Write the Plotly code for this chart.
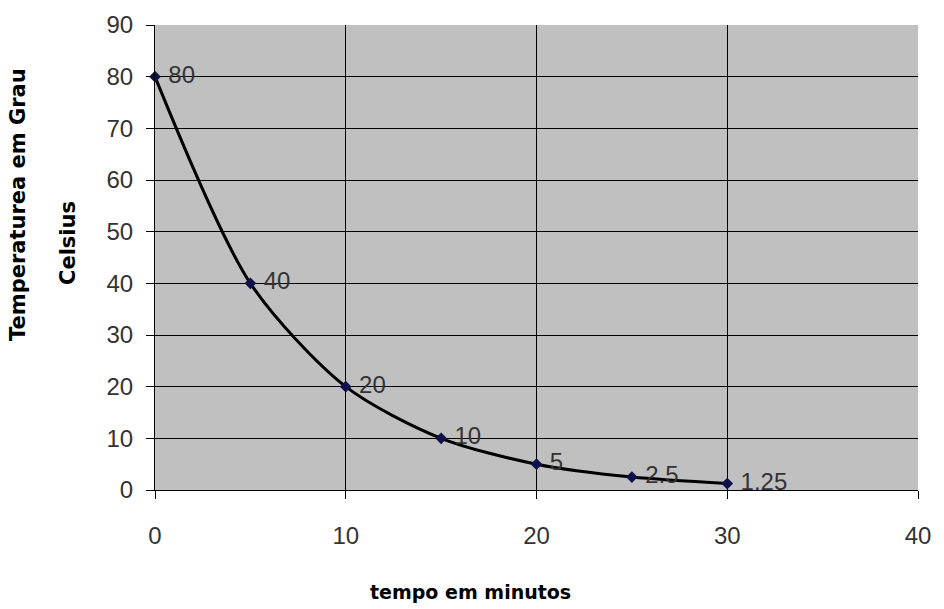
import plotly.graph_objects as go

tempo = [0, 5, 10, 15, 20, 25, 30]
temperatura = [80, 40, 20, 10, 5, 2.5, 1.25]
rotulos = ["80", "40", "20", "10", "5", "2.5", "1.25"]
x_ticks = [0, 10, 20, 30, 40]
y_ticks = [0, 10, 20, 30, 40, 50, 60, 70, 80, 90]

tick_font = dict(family="Liberation Sans Narrow, Arial Narrow, Liberation Sans, Arial, sans-serif",
                 size=24, color="#333333")
title_family = "DejaVu Sans, Arial, sans-serif"

fig = go.Figure()
fig.add_trace(go.Scatter(
    x=tempo, y=temperatura,
    mode="lines+markers+text",
    line=dict(color="black", width=3, shape="spline", smoothing=0.8),
    marker=dict(symbol="diamond", size=9, color="#10104a"),
    text=["\u00a0" + r for r in rotulos], textposition="middle right",
    textfont=tick_font,
    cliponaxis=False,
    showlegend=False,
))

fig.update_layout(
    width=944, height=609,
    margin=dict(l=155, r=26, t=25, b=119),
    paper_bgcolor="white",
    plot_bgcolor="#C0C0C0",
    xaxis=dict(
        range=[0, 40], tickvals=x_ticks, showgrid=True, gridcolor="black", gridwidth=1,
        zeroline=False, showline=True, linecolor="black", linewidth=1,
        ticks="outside", ticklen=8, tickcolor="black", tickfont=tick_font,
        ticklabelstandoff=16,
    ),
    yaxis=dict(
        range=[0, 90], tickvals=y_ticks, showgrid=True, gridcolor="black", gridwidth=1,
        zeroline=False, showline=True, linecolor="black", linewidth=1,
        ticks="outside", ticklen=8, tickcolor="black", tickfont=tick_font,
        ticklabelstandoff=8,
    ),
    annotations=[
        dict(text="<b>tempo em minutos</b>", x=470, y=592, xref="paper", yref="paper",
             showarrow=False, xanchor="center", yanchor="middle",
             font=dict(family=title_family, size=19, color="black")),
        dict(text="<b>Temperaturea em Grau</b>", x=18, y=205, xref="paper", yref="paper",
             showarrow=False, textangle=-90, xanchor="center", yanchor="middle",
             font=dict(family=title_family, size=21, color="black")),
        dict(text="<b>Celsius</b>", x=68, y=243, xref="paper", yref="paper",
             showarrow=False, textangle=-90, xanchor="center", yanchor="middle",
             font=dict(family=title_family, size=21, color="black")),
    ],
)

# convert pixel positions for titles into paper coords
plot_w = 944 - 155 - 26
plot_h = 609 - 25 - 119
for ann in fig.layout.annotations:
    px, py = ann.x, ann.y
    ann.x = (px - 155) / plot_w
    ann.y = (609 - 119 - py) / plot_h

fig.write_html("out.html")
